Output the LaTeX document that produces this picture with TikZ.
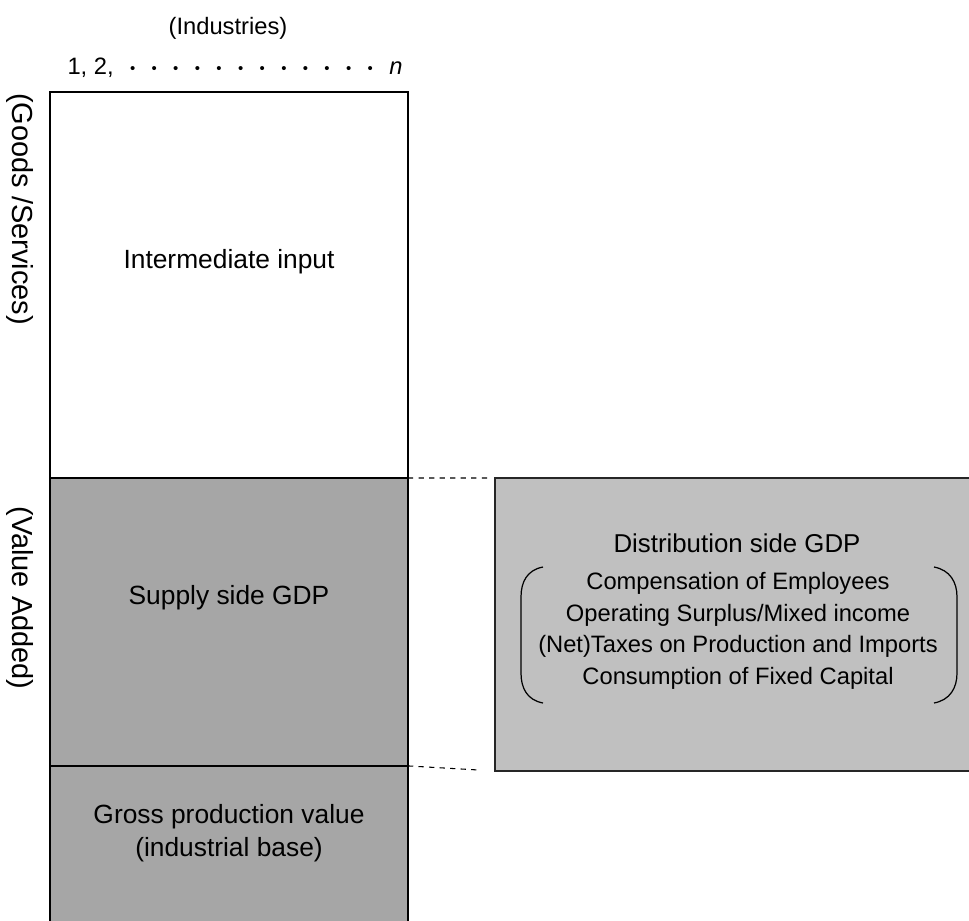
\documentclass[tikz,border=0pt]{standalone}
\usepackage{fontspec}
\setmainfont{Liberation Sans}
\usetikzlibrary{positioning}
\definecolor{cellgray}{HTML}{A6A6A6}
\definecolor{boxgray}{HTML}{C0C0C0}
\tikzstyle{cell} = [rectangle, minimum width=7.16cm, draw=black, line width=1.1pt, inner sep=0pt, outer sep=0pt]
\tikzstyle{distbox} = [rectangle, fill=boxgray, draw=black!85, line width=1.2pt, inner sep=0pt, outer sep=0pt]
\tikzstyle{celltext} = [align=center, inner sep=0pt, font=\fontsize{15}{18.8}\selectfont]
\tikzstyle{listtext} = [align=center, inner sep=0pt, font=\fontsize{13.5}{18}\selectfont]
\tikzstyle{toptext} = [inner sep=0pt, font=\fontsize{13.5}{16}\selectfont]
\tikzstyle{sidetext} = [inner sep=0pt, rotate=-90, font=\fontsize{16.5}{20}\selectfont]
\tikzstyle{dashline} = [dashed, line width=0.6pt]
\tikzstyle{paren} = [line width=0.7pt]
\newcommand{\idxdot}{\hfill\raisebox{0.8pt}{\fontsize{8.5}{8.5}\selectfont•}}

\begin{document}
\begin{tikzpicture}[x=0.02cm, y=-0.02cm]
\useasboundingbox (0,0) rectangle (969,920);
% column of the table
\node (inter) [cell, fill=white, minimum height=7.72cm] at (229,285) {};
\node (supply) [cell, fill=cellgray, minimum height=5.76cm, below=0pt of inter] {};
\node (gross) [cell, fill=cellgray, minimum height=3.6cm, below=0pt of supply] {};
\node (dist) [distbox, minimum width=10.5cm, minimum height=5.86cm, anchor=north west] at (495,478) {};

% headings
\node (industries) [toptext] at (228,28) {(Industries)};
\node (index) [toptext] at (235,68) {\makebox[6.7cm]{1, 2,\idxdot\idxdot\idxdot\idxdot\idxdot\idxdot\idxdot\idxdot\idxdot\idxdot\idxdot\idxdot\hfill\textit{n}}};
\node (goods) [sidetext] at (20,209) {(Goods /Services)};
\node (value) [sidetext] at (20,598) {(Value Added)};

% cell texts
\node (intertext) [celltext] at (229,262) {Intermediate input};
\node (supplytext) [celltext] at (229,598) {Supply side GDP};
\node (grosstext) [celltext] at (229,833) {Gross production value\\(industrial base)};
\node (disttitle) [celltext, font=\fontsize{14.7}{18}\selectfont] at (737,543) {Distribution side GDP};
\node (distlist) [listtext] at (738,631) {Compensation of Employees\\Operating Surplus/Mixed income\\(Net)Taxes on Production and Imports\\Consumption of Fixed Capital};

% brackets
\draw [paren] (543,567) .. controls (527,570) and (521,582) .. (521,597) -- (521,673) .. controls (521,688) and (527,700) .. (543,703);
\draw [paren] (934,567) .. controls (950,570) and (957,582) .. (957,597) -- (957,673) .. controls (957,688) and (950,700) .. (934,703);

% links to the box
\draw [dashline, shorten >=0.14cm] (supply.north east) -- (dist.north west);
\draw [dashline, shorten >=0.3cm] (supply.south east) -- (dist.south west);
\end{tikzpicture}
\end{document}
